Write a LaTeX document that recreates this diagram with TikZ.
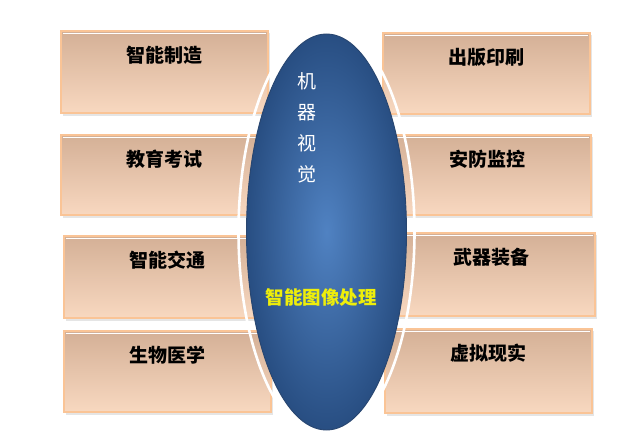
\documentclass[tikz,border=0pt]{standalone}
\usepackage{fontspec}
\newfontfamily\cjk{Noto Sans CJK SC}
\begin{document}
\begin{tikzpicture}[x=1pt,y=-1pt,
  applabel/.style={font=\cjk\bfseries\fontsize{19}{19}\selectfont,text=black,inner sep=0pt},
]
\definecolor{boxT}{RGB}{212,176,150}
\definecolor{boxB}{RGB}{248,216,192}
\definecolor{boxEdge}{RGB}{250,196,150}
\definecolor{ellIn}{RGB}{80,130,194}
\definecolor{ellOut}{RGB}{40,78,130}
\definecolor{ellEdge}{RGB}{40,70,112}
\definecolor{ylw}{RGB}{238,238,10}
\useasboundingbox[fill=white] (0,0) rectangle (640,436);
% boxes: name, left, top, bottom
\foreach \n/\l/\t/\b in {L1/61/31/113, L2/61/135/215, L3/64/236/318, L4/64/331/412,
                        R1/383/33/114, R2/384/135/215, R3/388/233/316, R4/385/329/413}{
  \fill[gray!20] (\l+1.5,\t+2) rectangle (\l+208.5,\b+2.5);
  \path[top color=boxT,bottom color=boxB] (\l,\t) rectangle (\l+207,\b);
  \draw[white,line width=0.8pt] (\l+2.2,\t+2.4) -- (\l+204.8,\t+2.4);
  \draw[boxEdge,line width=1.6pt] (\l,\t) rectangle (\l+207,\b);
  \coordinate (\n) at (\l+103.5,\t+24);
}
% white ring
\draw[white,line width=2.6pt] (326.5,232) ellipse [x radius=88,y radius=206];
% blue ellipse
\path[inner color=ellIn,outer color=ellOut] (326.5,232) ellipse [x radius=80,y radius=198];
\draw[ellEdge,line width=0.9pt] (326.5,232) ellipse [x radius=80,y radius=198];
\node[applabel] (tL1) at (L1) {智能制造};
\node[applabel] (tL2) at (L2) {教育考试};
\node[applabel] (tL3) at (L3) {智能交通};
\node[applabel] (tL4) at (L4) {生物医学};
\node[applabel] (tR1) at (R1) {出版印刷};
\node[applabel] (tR2) at (R2) {安防监控};
\node[applabel] (tR3) at (R3) {武器装备};
\node[applabel] (tR4) at (R4) {虚拟现实};
\node[font=\cjk\fontsize{19}{31}\selectfont,text=white,align=center,inner sep=0pt] (mv) at (307,127.5) {机\\器\\视\\觉};
\node[font=\cjk\bfseries\fontsize{18.5}{19}\selectfont,text=ylw,inner sep=0pt] (ip) at (321,297) {智能图像处理};
\end{tikzpicture}
\end{document}
